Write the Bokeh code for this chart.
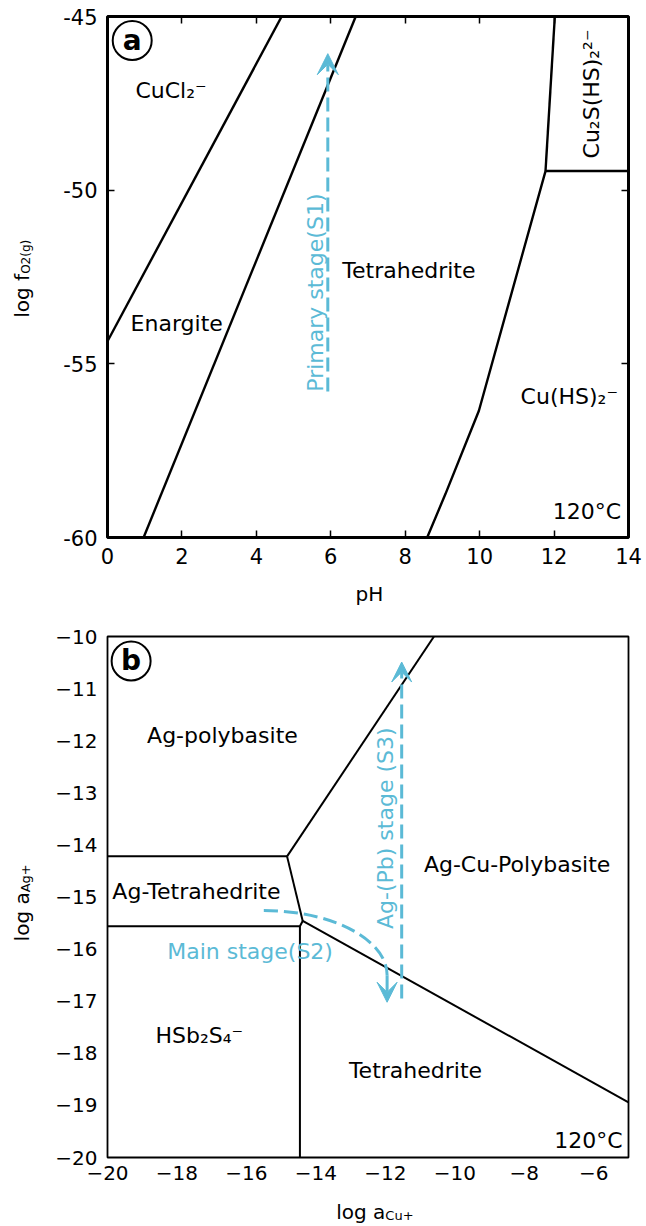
from bokeh.plotting import figure
from bokeh.layouts import column
from bokeh.models import Range1d, LinearAxis, FixedTicker, Label, Arrow, VeeHead
from bokeh.core.properties import value
from bokeh.embed import file_html
from bokeh.resources import INLINE

FONT = "DejaVu Sans"
BLUE = "#5bbad6"
DASH = "14 6"
LIFT = -7   # pixel shift that puts the alphabetic baseline of glyph text on its anchor

# ---------------- panel (a): log fO2(g) vs pH, 120 °C ----------------
a_ph_ticks = [0, 2, 4, 6, 8, 10, 12, 14]
a_ph_labels = ["0", "2", "4", "6", "8", "10", "12", "14"]
a_fo2_ticks = [-60, -55, -50, -45]
a_fo2_labels = ["-60", "-55", "-50", "-45"]

# stability field boundaries (pH, log fO2)
a_bound_ph = [
    [0.0, 4.68],                      # CuCl2- / enargite
    [0.97, 6.67],                     # enargite / tetrahedrite
    [8.59, 9.08, 9.98, 11.77],        # tetrahedrite / Cu(HS)2-
    [11.77, 12.02],                   # tetrahedrite / Cu2S(HS)2 2-
    [11.77, 14.0],                    # Cu(HS)2- / Cu2S(HS)2 2-
]
a_bound_fo2 = [
    [-54.35, -45.0],
    [-60.0, -45.0],
    [-60.0, -58.75, -56.35, -49.45],
    [-49.45, -45.0],
    [-49.45, -49.45],
]

a_field_names = ["CuCl\u2082\u207b", "Enargite", "Tetrahedrite", "Cu(HS)\u2082\u207b"]
a_field_ph = [0.75, 0.62, 6.31, 11.1]
a_field_fo2 = [-47.33, -54.04, -52.52, -56.14]

a_vfield_name = ["Cu\u2082S(HS)\u2082\u00b2\u207b"]
a_vfield_ph = [13.2]
a_vfield_fo2 = [-47.23]

# primary stage path (S1)
s1_ph = 5.92
s1_fo2_start = -55.8
s1_fo2_end = -46.07

# ---------------- panel (b): log aAg+ vs log aCu+, 120 °C ----------------
b_cu_ticks = [-20, -18, -16, -14, -12, -10, -8, -6]
b_cu_labels = ["\u221220", "\u221218", "\u221216", "\u221214", "\u221212", "\u221210", "\u22128", "\u22126"]
b_ag_ticks = [-20, -19, -18, -17, -16, -15, -14, -13, -12, -11, -10]
b_ag_labels = ["\u221220", "\u221219", "\u221218", "\u221217", "\u221216", "\u221215",
               "\u221214", "\u221213", "\u221212", "\u221211", "\u221210"]

b_bound_cu = [
    [-20.0, -14.83],
    [-14.83, -10.6],
    [-14.83, -14.38],
    [-14.38, -5.0],
    [-20.0, -14.46, -14.38],
    [-14.46, -14.46],
]
b_bound_ag = [
    [-14.22, -14.22],
    [-14.22, -10.0],
    [-14.22, -15.46],
    [-15.46, -18.94],
    [-15.56, -15.56, -15.46],
    [-15.56, -20.0],
]

b_field_names = ["Ag-polybasite", "Ag-Tetrahedrite", "HSb\u2082S\u2084\u207b", "Tetrahedrite", "Ag-Cu-Polybasite"]
b_field_cu = [-18.86, -19.86, -18.62, -13.05, -10.89]
b_field_ag = [-12.03, -15.02, -17.79, -18.46, -14.52]

# main stage path (S2), a curved arrow, and Ag-(Pb) stage path (S3)
s2_start = (-15.5, -15.26)
s2_bend_end = (-11.95, -16.5)
s2_tip = (-11.95, -17.02)
s3_cu = -11.53
s3_ag_start = -16.95
s3_ag_end = -10.49


def make_panel(x_range, y_range, border_top, border_bottom, outline_width):
    p = figure(frame_width=521, frame_height=521, x_range=x_range, y_range=y_range,
               min_border_left=107, min_border_right=18, min_border_top=border_top,
               min_border_bottom=border_bottom, output_backend="svg",
               toolbar_location=None, tools="",
               background_fill_color="white", border_fill_color="white")
    p.grid.visible = False
    p.outline_line_color = "black"
    p.outline_line_alpha = 1.0
    p.outline_line_width = outline_width
    for ax in p.axis:
        ax.axis_line_color = None
        ax.minor_tick_line_color = None
        ax.major_label_text_font = FONT
        ax.major_label_text_color = "black"
    return p


def text_kw(size="22px", color="black"):
    return dict(text_font=value(FONT), text_font_size=size, text_color=color)


def flat_text(p, x, y, text, align="left", size="22px", color="black"):
    p.text(x=x, y=y, text=text, text_align=align, text_baseline="alphabetic",
           y_offset=LIFT, **text_kw(size, color))


def upright_text(p, x, y, text, size="22px", color="black"):
    # reads bottom to top; x gives the baseline
    p.text(x=x, y=y, text=text, angle=90, angle_units="deg", text_align="center",
           text_baseline="alphabetic", x_offset=LIFT, **text_kw(size, color))


def title_label(text, x, y, x_offset=0, y_offset=0, angle=0, align="center", size="20px"):
    # Label offsets: x to the right, y upward; LIFT corrects the baseline the same way
    if angle:
        x_offset += LIFT
    else:
        y_offset -= LIFT
    return Label(x=x, y=y, x_offset=x_offset, y_offset=y_offset, text=text,
                 angle=angle, angle_units="deg", text_align=align,
                 text_baseline="alphabetic", text_font=FONT, text_font_size=size,
                 text_color="black")


# ======== panel (a) ========
pa = make_panel(Range1d(0, 14), Range1d(-60, -45), 16, 81, 3)
pa.xaxis.ticker = FixedTicker(ticks=a_ph_ticks)
pa.xaxis.major_label_overrides = dict(zip(a_ph_ticks, a_ph_labels))
pa.yaxis.ticker = FixedTicker(ticks=a_fo2_ticks)
pa.yaxis.major_label_overrides = dict(zip(a_fo2_ticks, a_fo2_labels))
for ax in pa.axis:
    ax.major_tick_in = 7
    ax.major_tick_out = 0
    ax.major_tick_line_width = 1.5
    ax.major_label_standoff = 10
    ax.major_label_text_font_size = "21px"

for side, ticks in (("above", a_ph_ticks), ("right", a_fo2_ticks)):
    extra = LinearAxis(ticker=FixedTicker(ticks=ticks),
                       major_label_overrides={t: "" for t in ticks},
                       major_label_text_font_size="0px", major_label_standoff=0,
                       major_tick_in=7, major_tick_out=0, major_tick_line_width=1.5,
                       axis_line_color=None, minor_tick_line_color=None)
    pa.add_layout(extra, side)

pa.multi_line(xs=a_bound_ph, ys=a_bound_fo2, line_color="black", line_width=2.4)

flat_text(pa, a_field_ph, a_field_fo2, a_field_names)
upright_text(pa, a_vfield_ph, a_vfield_fo2, a_vfield_name)
flat_text(pa, [13.8], [-59.45], ["120\u00b0C"], align="right")

pa.add_layout(Arrow(end=VeeHead(size=21, fill_color=BLUE, line_color=BLUE, line_width=1),
                    x_start=s1_ph, y_start=s1_fo2_start, x_end=s1_ph, y_end=s1_fo2_end,
                    line_color=BLUE, line_width=3, line_dash=DASH))
upright_text(pa, [5.78], [-52.95], ["Primary stage(S1)"], color=BLUE)

# panel badge
pa.scatter(x=[0.664], y=[-45.69], marker="circle", size=39, fill_color="white",
           line_color="black", line_width=2)
pa.text(x=[0.664], y=[-45.69], text=["a"], text_align="center", text_baseline="middle",
        text_font_style="bold", **text_kw("28px"))

# axis titles live in the side panels so they are not clipped to the frame
pa.add_layout(title_label("log f", 0, -52.41, x_offset=-79, angle=90, align="right"), "left")
pa.add_layout(title_label("O2(g)", 0, -52.41, x_offset=-75, angle=90, align="left",
                          size="12px"), "left")
pa.add_layout(title_label("pH", 7.04, -60, y_offset=-63), "below")

# ======== panel (b) ========
pb = make_panel(Range1d(-20, -5), Range1d(-20, -10), 18, 69, 1.8)
pb.xaxis.ticker = FixedTicker(ticks=b_cu_ticks)
pb.xaxis.major_label_overrides = dict(zip(b_cu_ticks, b_cu_labels))
pb.yaxis.ticker = FixedTicker(ticks=b_ag_ticks)
pb.yaxis.major_label_overrides = dict(zip(b_ag_ticks, b_ag_labels))
for ax in pb.axis:
    ax.major_tick_in = 0
    ax.major_tick_out = 0
    ax.major_tick_line_color = None
    ax.major_label_text_font_size = "20px"
pb.xaxis.major_label_standoff = 8
pb.yaxis.major_label_standoff = 10

pb.multi_line(xs=b_bound_cu, ys=b_bound_ag, line_color="black", line_width=2)

flat_text(pb, b_field_cu, b_field_ag, b_field_names)
flat_text(pb, [-5.17], [-19.81], ["120\u00b0C"], align="right")

# S3: straight dashed arrow
pb.add_layout(Arrow(end=VeeHead(size=20, fill_color=BLUE, line_color=BLUE, line_width=1),
                    x_start=s3_cu, y_start=s3_ag_start, x_end=s3_cu, y_end=s3_ag_end,
                    line_color=BLUE, line_width=3, line_dash=DASH))
upright_text(pb, [-11.79], [-13.68], ["Ag-(Pb) stage (S3)"], color=BLUE)

# S2: quarter-ellipse bend drawn as a cubic Bezier, then the arrowhead
k = 0.552
corner = (s2_bend_end[0], s2_start[1])
c0 = (s2_start[0] + k * (corner[0] - s2_start[0]), s2_start[1])
c1 = (s2_bend_end[0], s2_bend_end[1] + k * (corner[1] - s2_bend_end[1]))
pb.bezier(x0=[s2_start[0]], y0=[s2_start[1]], x1=[s2_bend_end[0]], y1=[s2_bend_end[1]],
          cx0=[c0[0]], cy0=[c0[1]], cx1=[c1[0]], cy1=[c1[1]],
          line_color=BLUE, line_width=3, line_dash=DASH)
pb.add_layout(Arrow(end=VeeHead(size=20, fill_color=BLUE, line_color=BLUE, line_width=1),
                    x_start=s2_bend_end[0], y_start=s2_bend_end[1],
                    x_end=s2_tip[0], y_end=s2_tip[1],
                    line_color=BLUE, line_width=3))
flat_text(pb, [-18.28], [-16.18], ["Main stage(S2)"], color=BLUE)

pb.scatter(x=[-19.32], y=[-10.47], marker="circle", size=39, fill_color="white",
           line_color="black", line_width=2)
pb.text(x=[-19.32], y=[-10.47], text=["b"], text_align="center", text_baseline="middle",
        text_font_style="bold", **text_kw("28px"))

pb.add_layout(title_label("log a", -20, -14.91, x_offset=-79, angle=90, align="right"), "left")
pb.add_layout(title_label("Ag+", -20, -14.91, x_offset=-75, angle=90, align="left",
                          size="13px"), "left")
pb.add_layout(title_label("log a", -12.0, -20, y_offset=-61, align="right"), "below")
pb.add_layout(title_label("Cu+", -12.0, -20, y_offset=-65, align="left", size="13px"), "above")

layout = column(pa, pb, spacing=0)
open("out.html", "w").write(file_html(layout, INLINE))
